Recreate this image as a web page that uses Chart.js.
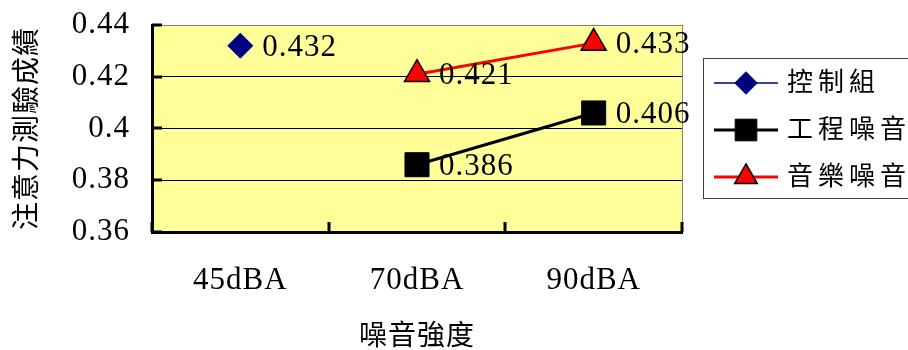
<!DOCTYPE html>
<html>
<head>
<meta charset="utf-8">
<script src="https://cdn.jsdelivr.net/npm/chart.js@4/dist/chart.umd.min.js"></script>
<style>
  html, body { margin: 0; padding: 0; background: #ffffff; overflow: hidden; }
  #wrap { width: 908px; height: 350px; }
</style>
</head>
<body>
<div id="wrap"><canvas id="c" width="908" height="350"></canvas></div>
<script>
// Noise level categories and attention-test scores per group
const categories = ['45dBA', '70dBA', '90dBA'];
const controlGroup = [0.432, null, null];
const constructionNoise = [null, 0.386, 0.406];
const musicNoise = [null, 0.421, 0.433];
const seriesNames = ['控制組', '工程噪音', '音樂噪音'];
const yMin = 0.36, yMax = 0.44, yStep = 0.02;
const xTitle = '噪音強度';
const yTitle = '注意力測驗成績';

const FONT = '"Liberation Serif", "Noto Sans CJK TC", serif';
const NUM_SIZE = 31;
const PLOT_BG = '#FFFF99';

function near(a, b) { return Math.abs(a - b) < 1e-9; }

// Yellow plot area with a thin gray frame; sets letter spacing for all text
const plotBackground = {
  id: 'plotBackground',
  beforeDraw(chart) {
    const { ctx, chartArea: a } = chart;
    ctx.letterSpacing = '1px';
    ctx.save();
    ctx.fillStyle = PLOT_BG;
    ctx.fillRect(a.left, a.top, a.right - a.left, a.bottom - a.top);
    ctx.strokeStyle = '#808080';
    ctx.lineWidth = 1;
    ctx.strokeRect(Math.round(a.left) + 0.5, Math.round(a.top) + 0.5,
                   Math.round(a.right - a.left), Math.round(a.bottom - a.top));
    ctx.restore();
  }
};

// Short tick marks pointing into the plot area
const innerTicks = {
  id: 'innerTicks',
  beforeDatasetsDraw(chart) {
    const { ctx, scales: { x, y } } = chart;
    const len = 10;
    ctx.save();
    ctx.strokeStyle = '#000';
    ctx.lineWidth = 3;
    ctx.beginPath();
    const n = x.ticks.length;
    for (let i = 0; i <= n; i++) {
      const px = Math.round(x.left + i * (x.width / n));
      ctx.moveTo(px, y.bottom);
      ctx.lineTo(px, y.bottom - len);
    }
    y.ticks.forEach(t => {
      const py = Math.round(y.getPixelForValue(t.value));
      ctx.moveTo(x.left, py);
      ctx.lineTo(x.left + len, py);
    });
    ctx.stroke();
    ctx.restore();
  }
};

// Value labels to the right of each marker
const valueLabels = {
  id: 'valueLabels',
  afterDatasetsDraw(chart) {
    const { ctx } = chart;
    ctx.save();
    ctx.letterSpacing = '1px';
    ctx.font = NUM_SIZE + 'px ' + FONT;
    ctx.fillStyle = '#000';
    ctx.textAlign = 'left';
    ctx.textBaseline = 'middle';
    chart.data.datasets.forEach((ds, di) => {
      const meta = chart.getDatasetMeta(di);
      ds.data.forEach((v, i) => {
        if (v === null || v === undefined) return;
        const el = meta.data[i];
        ctx.fillText(String(v), el.x + 22, el.y + 2);
      });
    });
    ctx.restore();
  }
};

function drawShape(ctx, style, r, x, y) {
  if (style === 'rectRot') {
    ctx.moveTo(x, y - r); ctx.lineTo(x + r, y); ctx.lineTo(x, y + r); ctx.lineTo(x - r, y); ctx.closePath();
  } else if (style === 'rect') {
    const s = r * Math.SQRT1_2;
    ctx.rect(x - s, y - s, 2 * s, 2 * s);
  } else {
    const hw = r * Math.sqrt(3) / 2;
    ctx.moveTo(x, y - r); ctx.lineTo(x + hw, y + r / 2); ctx.lineTo(x - hw, y + r / 2); ctx.closePath();
  }
}

// Boxed legend with line + marker swatches
const boxLegend = {
  id: 'boxLegend',
  afterDraw(chart) {
    const { ctx, chartArea: a } = chart;
    const left = a.right + 21, top = 58, h = 140, w = 260;
    ctx.save();
    ctx.fillStyle = '#fff';
    ctx.fillRect(left, top, w, h);
    ctx.strokeStyle = '#404040';
    ctx.lineWidth = 1;
    ctx.strokeRect(left + 0.5, top + 0.5, w, h);
    chart.data.datasets.forEach((ds, i) => {
      const cy = top + 25 + i * 47;
      ctx.strokeStyle = ds.borderColor;
      ctx.lineWidth = Math.max(ds.borderWidth, 1.5);
      ctx.beginPath();
      ctx.moveTo(left + 11, cy);
      ctx.lineTo(left + 75, cy);
      ctx.stroke();
      ctx.fillStyle = ds.pointBackgroundColor;
      ctx.strokeStyle = ds.pointBorderColor;
      ctx.lineWidth = ds.pointBorderWidth;
      ctx.beginPath();
      drawShape(ctx, ds.pointStyle, ds.pointRadius * 0.9, left + 43, cy);
      ctx.fill();
      ctx.stroke();
      ctx.letterSpacing = '5px';
      ctx.font = '26px ' + FONT;
      ctx.fillStyle = '#000';
      ctx.textAlign = 'left';
      ctx.textBaseline = 'middle';
      ctx.fillText(ds.label, left + 84, cy + 1);
    });
    ctx.restore();
  }
};

new Chart(document.getElementById('c'), {
  type: 'line',
  data: {
    labels: categories,
    datasets: [
      {
        label: seriesNames[0], data: controlGroup,
        borderColor: '#000080', borderWidth: 1,
        pointStyle: 'rectRot', pointRadius: 12.5,
        pointBackgroundColor: '#000080', pointBorderColor: '#000080', pointBorderWidth: 1
      },
      {
        label: seriesNames[1], data: constructionNoise,
        borderColor: '#000000', borderWidth: 3,
        pointStyle: 'rect', pointRadius: 17,
        pointBackgroundColor: '#000000', pointBorderColor: '#000000', pointBorderWidth: 1
      },
      {
        label: seriesNames[2], data: musicNoise,
        borderColor: '#FF0000', borderWidth: 3,
        pointStyle: 'triangle', pointRadius: 14.5,
        pointBackgroundColor: '#FF0000', pointBorderColor: '#000000', pointBorderWidth: 1.5
      }
    ]
  },
  options: {
    responsive: false,
    animation: false,
    devicePixelRatio: 1,
    layout: { padding: { top: 25, right: 226, left: 0, bottom: 0 } },
    plugins: { legend: { display: false }, tooltip: { enabled: false } },
    elements: { line: { tension: 0 } },
    scales: {
      x: {
        type: 'category',
        offset: true,
        grid: { display: true, drawOnChartArea: false, drawTicks: false, offset: true },
        border: { display: true, color: '#000', width: 3 },
        ticks: { color: '#000', font: { family: FONT, size: NUM_SIZE }, padding: 30 },
        title: {
          display: true, text: xTitle, color: '#000',
          font: { family: FONT, size: 28, lineHeight: 0.85 },
          padding: { top: 0, bottom: 0 }
        },
        afterFit(s) { s.height = 118; s.paddingLeft = 0; s.paddingRight = 0; }
      },
      y: {
        min: yMin, max: yMax,
        grid: {
          drawTicks: false, lineWidth: 1,
          color: c => near(c.tick.value, yMax) ? '#808080' : (near(c.tick.value, yMin) ? 'rgba(0,0,0,0)' : '#000')
        },
        border: { display: true, color: '#000', width: 3 },
        ticks: {
          stepSize: yStep, color: '#000', padding: 22,
          font: { family: FONT, size: NUM_SIZE },
          callback: v => String(+v.toFixed(2))
        },
        title: {
          display: true, text: yTitle, color: '#000',
          font: { family: FONT, size: 28, lineHeight: 1.2 },
          padding: { top: 12, bottom: 0 }
        },
        afterFit(s) { s.width = 152; s.paddingTop = 0; s.paddingBottom = 0; }
      }
    }
  },
  plugins: [plotBackground, innerTicks, valueLabels, boxLegend]
});
</script>
</body>
</html>
